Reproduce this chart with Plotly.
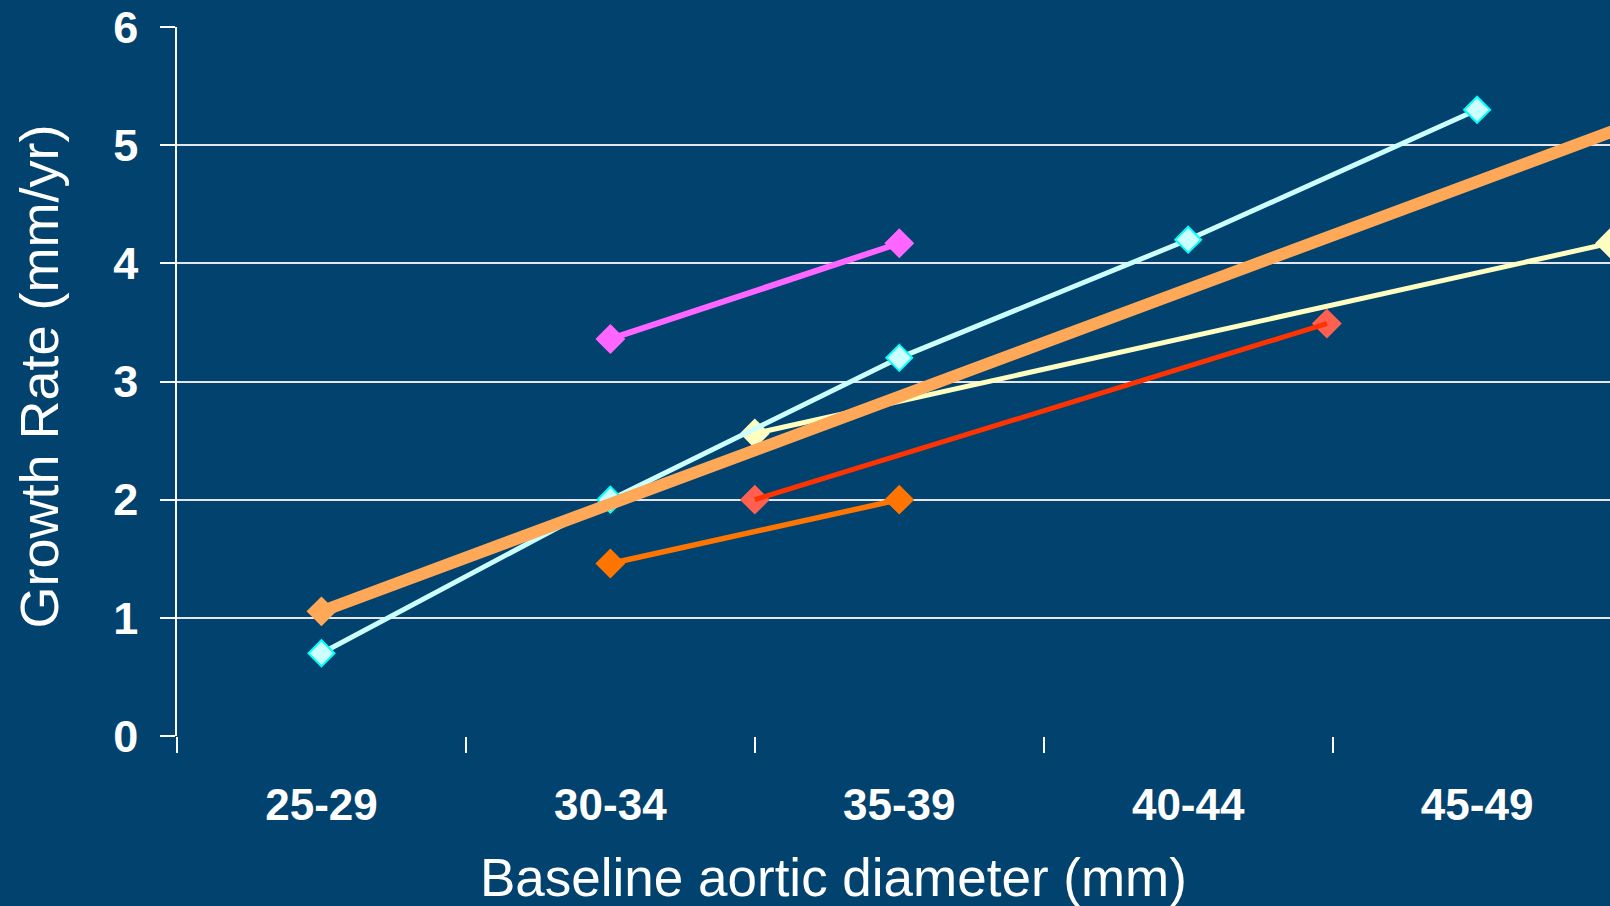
import plotly.graph_objects as go

# Category labels (size bands, mm) and their centres / boundaries on a numeric mm axis
categories = ["25-29", "30-34", "35-39", "40-44", "45-49"]
category_centres = [27.5, 32.5, 37.5, 42.5, 47.5]
band_edges = [25, 30, 35, 40, 45, 50]
y_ticks = [0, 1, 2, 3, 4, 5, 6]

# Series (x in mm, growth rate in mm/yr)
cyan_x = [27.5, 32.5, 37.5, 42.5, 47.5]
cyan_y = [0.70, 2.00, 3.20, 4.20, 5.30]

pink_x = [32.5, 37.5]
pink_y = [3.36, 4.17]

dark_orange_x = [32.5, 37.5]
dark_orange_y = [1.46, 2.00]

red_x = [35.0, 44.9]
red_y = [2.00, 3.49]

yellow_x = [35.0, 49.8]
yellow_y = [2.56, 4.17]

thick_orange_x = [27.5, 52.5]
thick_orange_y = [1.055, 5.60]

BG = "#01436E"
FONT = "Liberation Sans, Arial, sans-serif"

fig = go.Figure()

# yellow
fig.add_trace(go.Scatter(x=yellow_x, y=yellow_y, mode="lines+markers",
                         line=dict(color="#FFFFC2", width=5),
                         marker=dict(symbol="diamond", size=23, color="#FFFFC2"),
                         showlegend=False))
# red: marker under line
fig.add_trace(go.Scatter(x=red_x, y=red_y, mode="markers",
                         marker=dict(symbol="diamond", size=23, color="#FF6050"),
                         showlegend=False))
fig.add_trace(go.Scatter(x=red_x, y=red_y, mode="lines",
                         line=dict(color="#FF3300", width=5), showlegend=False))
# dark orange
fig.add_trace(go.Scatter(x=dark_orange_x, y=dark_orange_y, mode="lines+markers",
                         line=dict(color="#FF7500", width=5.5),
                         marker=dict(symbol="diamond", size=23, color="#FF7500"),
                         showlegend=False))
# pink
fig.add_trace(go.Scatter(x=pink_x, y=pink_y, mode="lines+markers",
                         line=dict(color="#FF66FF", width=6),
                         marker=dict(symbol="diamond", size=23, color="#FF66FF"),
                         showlegend=False))
# cyan
fig.add_trace(go.Scatter(x=cyan_x, y=cyan_y, mode="lines+markers",
                         line=dict(color="#CCFFFF", width=5),
                         marker=dict(symbol="diamond", size=20, color="#CCFFFF",
                                     line=dict(color="#00FFFF", width=2)),
                         showlegend=False))
# thick orange trend: marker under the line
fig.add_trace(go.Scatter(x=thick_orange_x, y=thick_orange_y, mode="markers",
                         marker=dict(symbol="diamond", size=23, color="#FFA858"),
                         showlegend=False))
fig.add_trace(go.Scatter(x=thick_orange_x, y=thick_orange_y, mode="lines",
                         line=dict(color="#FFA858", width=12), showlegend=False))

fig.update_layout(
    width=1610, height=906,
    paper_bgcolor=BG, plot_bgcolor=BG,
    margin=dict(l=177, r=0, t=27, b=170),
    font=dict(family=FONT, color="white"),
    xaxis=dict(
        range=[25, 49.8],
        tickvals=category_centres, ticktext=categories,
        ticks="outside", ticklen=30, tickcolor="rgba(0,0,0,0)",
        tickfont=dict(size=44, family=FONT, color="white", weight="bold"),
        showgrid=False, zeroline=False, showline=False,
        minor=dict(tickvals=band_edges, ticks="outside", ticklen=16,
                   tickcolor="white", tickwidth=1.5, showgrid=False),
    ),
    yaxis=dict(
        range=[0, 6], tickvals=y_ticks,
        ticks="outside", ticklen=15, tickcolor="white", tickwidth=1.5,
        tickfont=dict(size=45, family=FONT, color="white", weight="bold"),
        ticklabelstandoff=13,
        showgrid=True, gridcolor="#E6E6EA", gridwidth=2,
        zeroline=False, showline=True, linecolor="white", linewidth=1.5,
    ),
)

fig.add_annotation(text="Baseline aortic diameter (mm)", xref="paper", yref="paper",
                   x=0.458, y=-0.199, xanchor="center", yanchor="middle", showarrow=False,
                   font=dict(size=53, color="white", family=FONT))
fig.add_annotation(text="Growth Rate (mm/yr)", xref="paper", yref="paper",
                   x=-0.0965, y=0.5065, xanchor="center", yanchor="middle", textangle=-90,
                   showarrow=False,
                   font=dict(size=54, color="white", family=FONT))

fig.write_html("out.html")
